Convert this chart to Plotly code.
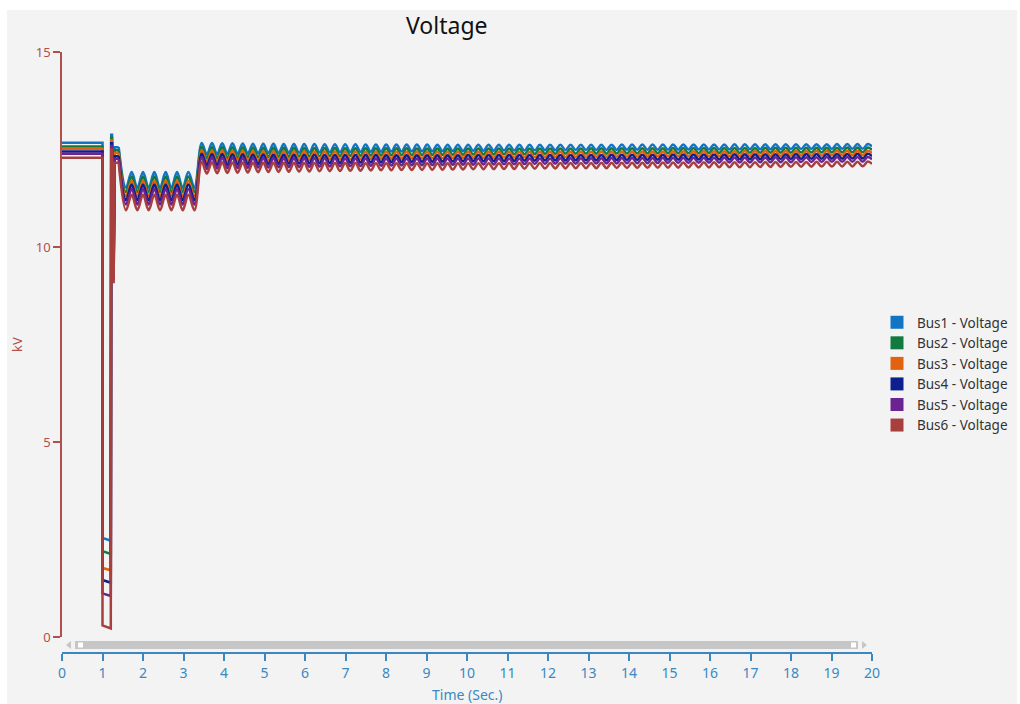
import numpy as np
import plotly.graph_objects as go

# ---- series ---------------------------------------------------------------
bus_names = ["Bus1 - Voltage", "Bus2 - Voltage", "Bus3 - Voltage",
             "Bus4 - Voltage", "Bus5 - Voltage", "Bus6 - Voltage"]
bus_colors = ["#1474c4", "#127a3e", "#e2620f", "#0c1f8c", "#6a2391", "#a83f3f"]

# steady level before the fault (kV)
pre_fault_kv = [12.67, 12.58, 12.52, 12.45, 12.39, 12.29]
# voltage right after fault inception and just before clearing (kV)
fault_start_kv = [2.54, 2.20, 1.77, 1.46, 1.12, 0.30]
fault_end_kv = [2.47, 2.13, 1.71, 1.39, 1.05, 0.22]
# clearing transient (kV)
spike_kv = [12.88, 12.80, 12.73, 12.66, 12.59, 12.50]
dip_kv = [9.60, 9.50, 9.40, 9.30, 9.20, 9.10]
reclose_kv = [12.56, 12.48, 12.41, 12.33, 12.26, 12.16]
# times of the fault / clearing events (s)
event_t = [0.0, 1.0, 1.0, 1.205, 1.215, 1.235, 1.262, 1.275, 1.30, 1.40]

# depressed period with power swing
sag_mean_kv = [11.72, 11.61, 11.50, 11.40, 11.29, 11.14]
sag_swing_kv = 0.20
sag_crest_t = [1.72, 2.00, 2.28, 2.56, 2.84, 3.12]
sag_trough_t = [1.58, 1.86, 2.14, 2.42, 2.70, 2.98, 3.27]

# recovered period with decaying swing
post_mean_start_kv = [12.52, 12.42, 12.33, 12.24, 12.15, 12.03]
post_mean_end_kv = [12.58, 12.49, 12.41, 12.33, 12.25, 12.13]
post_first_crest_t = 3.45
post_period_s = 0.253
swing_env_t = [3.4, 5.0, 8.0, 12.0, 20.0]
swing_env_kv = [0.15, 0.12, 0.09, 0.07, 0.06]

x_ticks = list(range(0, 21))
y_ticks = [0, 5, 10, 15]

# ---- figure geometry ------------------------------------------------------
W, H = 1020, 704
ML, MR, MT, MB = 62, 148, 52, 51
PW, PH = W - ML - MR, H - MT - MB
Y_ZERO_PX = 637          # where 0 kV sits
AXIS_PX = H - MB         # where the time axis sits


def px_x(px):
    return (px - ML) / PW


def px_y(py):
    return (AXIS_PX - py) / PH


fig = go.Figure()

for i, (name, color) in enumerate(zip(bus_names, bus_colors)):
    # pre-fault, fault and clearing transient
    y_event = [pre_fault_kv[i], pre_fault_kv[i], fault_start_kv[i], fault_end_kv[i],
               spike_kv[i], spike_kv[i], dip_kv[i], dip_kv[i],
               reclose_kv[i], reclose_kv[i]]
    fig.add_trace(go.Scatter(x=event_t, y=y_event, mode="lines",
                             line=dict(color=color, width=2.5),
                             showlegend=False, hoverinfo="skip"))

    # swing: crest / trough points joined by the spline
    pts = [(1.40, reclose_kv[i])]
    for t in sag_trough_t + sag_crest_t:
        sign = 1 if t in sag_crest_t else -1
        pts.append((t, sag_mean_kv[i] + sign * sag_swing_kv))
    crests = np.arange(post_first_crest_t, 20.0, post_period_s)
    for c in crests:
        for t, sign in ((c, 1), (c + post_period_s / 2, -1)):
            if t < 20.0:
                mean = np.interp(t, [3.4, 20.0], [post_mean_start_kv[i], post_mean_end_kv[i]])
                sw = np.interp(t, swing_env_t, swing_env_kv)
                pts.append((t, mean + sign * sw))
    pts.append((20.0, post_mean_end_kv[i]))
    pts.sort()
    fig.add_trace(go.Scatter(x=[p[0] for p in pts], y=[p[1] for p in pts],
                             mode="lines", line=dict(color=color, width=2.5, shape="spline"),
                             showlegend=False, hoverinfo="skip"))

# legend swatches
for name, color in zip(bus_names, bus_colors):
    fig.add_trace(go.Scatter(x=[None], y=[None], mode="markers", name=name,
                             marker=dict(symbol="square", size=13, color=color)))

PANEL = "#f3f3f3"
Y_COLOR = "#b0504c"
X_COLOR = "#3a88c2"
FONT = "Segoe UI, Noto Sans, Open Sans, sans-serif"

shapes = [
    # panel behind the chart
    dict(type="rect", xref="paper", yref="paper", layer="below",
         x0=px_x(7), x1=px_x(1017), y0=px_y(712), y1=px_y(10),
         fillcolor=PANEL, line=dict(width=0)),
    # time scroll bar
    dict(type="rect", xref="paper", yref="paper",
         x0=px_x(75), x1=px_x(858), y0=px_y(649), y1=px_y(641),
         fillcolor="#c6c6c6", line=dict(width=0)),
    dict(type="rect", xref="paper", yref="paper",
         x0=px_x(78), x1=px_x(83), y0=px_y(647.5), y1=px_y(642.5),
         fillcolor="#ffffff", line=dict(width=0)),
    dict(type="rect", xref="paper", yref="paper",
         x0=px_x(851), x1=px_x(856), y0=px_y(647.5), y1=px_y(642.5),
         fillcolor="#ffffff", line=dict(width=0)),
    dict(type="path", xref="paper", yref="paper",
         path=f"M {px_x(71)},{px_y(641)} L {px_x(66)},{px_y(645)} L {px_x(71)},{px_y(649)} Z",
         fillcolor="#c6c6c6", line=dict(width=0)),
    dict(type="path", xref="paper", yref="paper",
         path=f"M {px_x(862)},{px_y(641)} L {px_x(867)},{px_y(645)} L {px_x(862)},{px_y(649)} Z",
         fillcolor="#c6c6c6", line=dict(width=0)),
]

annotations = [
    dict(text="Voltage", xref="paper", yref="paper", x=px_x(447), y=px_y(25),
         xanchor="center", yanchor="middle", showarrow=False,
         font=dict(size=23, color="#111111", family=FONT)),
    dict(text="kV", xref="paper", yref="paper", x=px_x(17), y=px_y(345),
         xanchor="center", yanchor="middle", showarrow=False, textangle=-90,
         font=dict(size=13, color=Y_COLOR, family=FONT)),
    dict(text="Time (Sec.)", xref="paper", yref="paper", x=px_x(467), y=px_y(706),
         xanchor="center", yanchor="bottom", showarrow=False,
         font=dict(size=14, color=X_COLOR, family=FONT)),
]

fig.update_layout(
    width=W, height=H,
    margin=dict(l=ML, r=MR, t=MT, b=MB, autoexpand=False),
    paper_bgcolor="#ffffff",
    plot_bgcolor=PANEL,
    font=dict(family=FONT),
    shapes=shapes,
    annotations=annotations,
    showlegend=True,
    legend=dict(x=px_x(877), y=px_y(307), xanchor="left", yanchor="top",
                bgcolor="rgba(0,0,0,0)", itemsizing="trace", tracegroupgap=0,
                font=dict(size=13.5, color="#333333", family=FONT)),
    xaxis=dict(range=[0, 20], tickvals=x_ticks, ticktext=[str(v) for v in x_ticks],
               showgrid=False, zeroline=False, showline=True, linecolor=X_COLOR,
               linewidth=1.5, ticks="outside", ticklen=7, tickwidth=1.5,
               tickcolor=X_COLOR, tickfont=dict(size=14, color=X_COLOR, family=FONT),
               anchor="free", position=0),
    yaxis=dict(range=[0, 15], domain=[px_y(Y_ZERO_PX), 1], tickvals=y_ticks,
               ticktext=[str(v) for v in y_ticks],
               showgrid=False, zeroline=False, showline=True, linecolor=Y_COLOR,
               linewidth=1.5, ticks="outside", ticklen=7, tickwidth=1.5,
               tickcolor=Y_COLOR, tickfont=dict(size=13, color=Y_COLOR, family=FONT)),
)

fig.write_html("out.html")
